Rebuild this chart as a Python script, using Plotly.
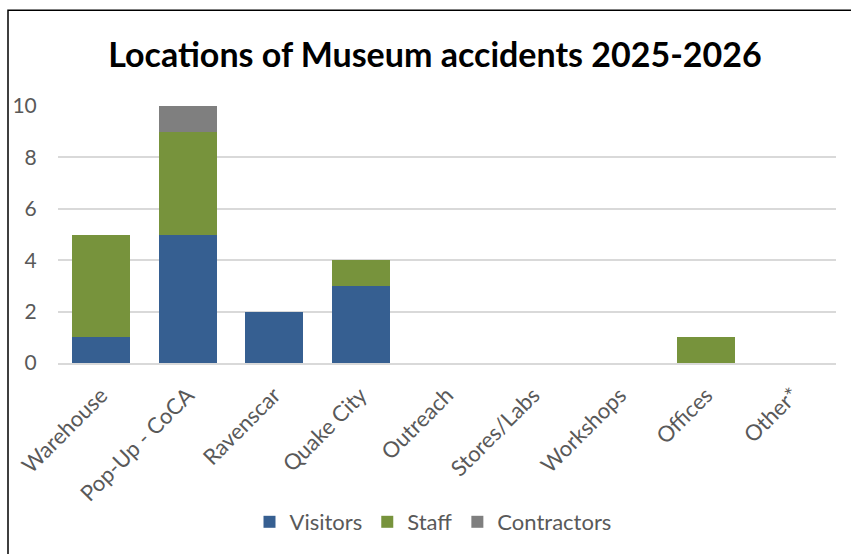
import plotly.graph_objects as go

categories = ["Warehouse", "Pop-Up - CoCA", "Ravenscar", "Quake City", "Outreach",
              "Stores/Labs", "Workshops", "Offices", "Other*"]
visitors = [1, 5, 2, 3, 0, 0, 0, 0, 0]
staff = [4, 4, 0, 1, 0, 0, 0, 1, 0]
contractors = [0, 1, 0, 0, 0, 0, 0, 0, 0]
y_ticks = [0, 2, 4, 6, 8, 10]

FONT = "Lato"
TXT = "#595959"

fig = go.Figure()
for name, vals, col in [("Visitors", visitors, "#365F91"),
                        ("Staff", staff, "#77933C"),
                        ("Contractors", contractors, "#7F7F7F")]:
    fig.add_trace(go.Bar(name=name, x=categories, y=vals, marker_color=col,
                         marker_line_width=0))

W, H = 851, 554
L, R, T, B = 58, 15, 106, 190
pw = W - L - R
ph = H - T - B

fig.update_layout(
    width=W, height=H,
    barmode="stack", bargap=0.33,
    paper_bgcolor="white", plot_bgcolor="white",
    margin=dict(l=L, r=R, t=T, b=B),
    font=dict(family=FONT, color=TXT, size=21),
    title=dict(text="<b>Locations of Museum accidents 2025-2026</b>",
               x=435 / W, xanchor="center", xref="container",
               y=1 - 55 / H, yanchor="middle", yref="container",
               font=dict(family=FONT, size=34, color="black")),
    xaxis=dict(type="category", tickangle=-45, showgrid=False, showline=True,
               linecolor="#D9D9D9", linewidth=1.5,
               ticks="outside", ticklen=9, tickcolor="rgba(0,0,0,0)",
               tickfont=dict(size=22, color=TXT)),
    yaxis=dict(range=[0, 10], tickvals=y_ticks, showgrid=True, gridcolor="#D9D9D9",
               gridwidth=1.5, zeroline=False, showline=False,
               ticks="outside", ticklen=16, tickcolor="rgba(0,0,0,0)",
               tickfont=dict(size=21, color=TXT)),
    legend=dict(orientation="h", x=(433 - L) / pw, xanchor="center",
                y=-(522 - (T + ph)) / ph, yanchor="middle",
                font=dict(size=22, color=TXT), traceorder="normal"),
    shapes=[dict(type="rect", xref="paper", yref="paper",
                 x0=(8 - L) / pw, x1=(W + 10 - L) / pw,
                 y0=-(H + 10 - (T + ph)) / ph, y1=(T + ph - 10) / ph,
                 line=dict(color="black", width=1.5), fillcolor="rgba(0,0,0,0)",
                 layer="above")],
)

fig.write_html("out.html")
